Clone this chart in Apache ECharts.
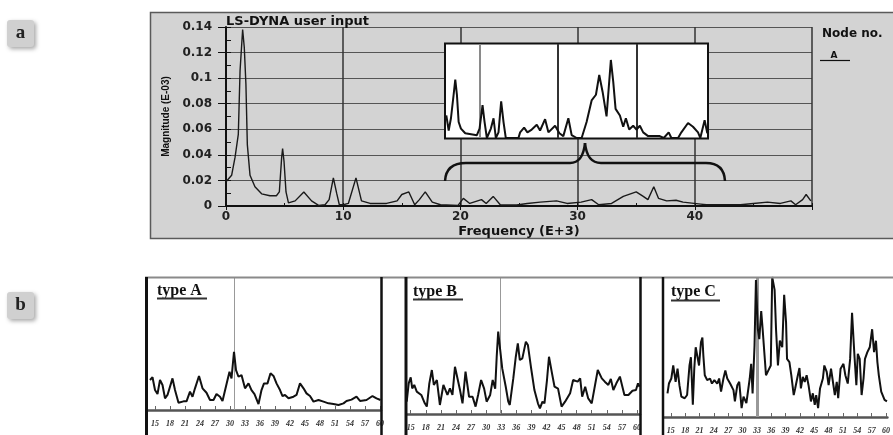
<!DOCTYPE html>
<html><head><meta charset="utf-8">
<script src="https://cdn.jsdelivr.net/npm/echarts@6/dist/echarts.min.js"></script>
<style>html,body{margin:0;padding:0;background:#fff}#c{width:893px;height:435px}</style>
</head><body><div id="c"></div>
<script>
// ---- panel a : main spectrum (Frequency E+3 vs Magnitude E-03) ----
const mainFreq=[0,0.48,0.77,1.05,1.2,1.42,1.56,1.7,1.82,2.05,2.47,3.04,3.75,4.3,4.55,4.75,4.83,4.95,5.12,5.33,5.9,6.64,7.3,7.9,8.45,8.8,9.16,9.44,9.67,10.0,10.44,11.09,11.56,12.3,13.7,14.6,15.0,15.6,16.1,16.5,17.0,17.6,18.3,19.8,20.25,20.8,21.8,22.2,22.8,23.4,24.8,25.7,26.8,28.2,29.1,30.3,31.2,31.8,32.9,33.9,35.0,35.6,36.0,36.5,36.9,37.6,38.4,39.0,40.5,41.0,43.9,45,46.2,47.3,48.2,48.6,49.2,49.5,49.9];
const mainMag=[0.019,0.024,0.038,0.056,0.106,0.138,0.124,0.095,0.048,0.024,0.015,0.0095,0.008,0.008,0.011,0.038,0.045,0.035,0.011,0.0025,0.004,0.011,0.004,0.0005,0.001,0.005,0.022,0.01,0.001,0.001,0.002,0.022,0.004,0.002,0.002,0.004,0.009,0.011,0.001,0.005,0.011,0.003,0.001,0.0005,0.006,0.002,0.005,0.002,0.0075,0.001,0.0008,0.002,0.003,0.004,0.002,0.003,0.005,0.001,0.002,0.0075,0.011,0.0075,0.005,0.015,0.006,0.004,0.0045,0.003,0.0015,0.001,0.001,0.002,0.003,0.002,0.004,0.001,0.005,0.009,0.004];
const yTicks=[0,0.02,0.04,0.06,0.08,0.1,0.12,0.14];
const xTicks=[0,10,20,30,40];
// ---- inset (magnified 16-49 E+3, relative magnitude) ----
const insetFreq=[15.80,16.10,16.39,16.73,16.94,17.15,17.37,17.66,18.21,19.69,20.03,20.41,20.67,20.96,21.47,21.81,22.10,22.44,22.78,23.08,23.37,24.14,24.98,25.19,25.70,26.12,26.67,27.31,27.73,28.37,28.79,29.64,30.19,30.69,31.33,31.75,32.39,33.02,33.65,34.29,34.84,35.26,35.69,36.19,36.74,37.04,37.34,37.89,38.31,38.65,39.07,39.58,40.00,40.43,40.85,41.48,42.96,43.47,44.10,44.44,45.29,45.71,46.56,47.19,47.83,48.12,48.67,49.01];
const insetMag=[0.24,0.08,0.21,0.46,0.62,0.46,0.17,0.10,0.05,0.03,0.10,0.35,0.17,0,0.10,0.21,0,0.06,0.39,0.17,0,0,0,0.06,0.11,0.06,0.09,0.14,0.08,0.20,0.06,0.13,0.05,0.02,0.21,0.03,0,0,0.17,0.40,0.46,0.67,0.49,0.23,0.83,0.60,0.31,0.24,0.12,0.21,0.09,0.13,0.09,0.13,0.06,0.02,0.02,0,0.06,0,0,0.06,0.16,0.12,0.06,0,0.19,0.05];
// ---- panel b : types A, B, C ----
const bottomTicks=[15,18,21,24,27,30,33,36,39,42,45,48,51,54,57,60];
const typeAFreq=[14,14.5,15,15.5,16,16.5,17,17.5,18.5,19,19.7,20.7,21.3,22,22.5,23,23.8,24.5,25.3,26,26.7,27.3,28,28.5,29.5,29.9,30.3,30.8,31.2,31.7,32.3,33,33.7,34.3,34.9,35.7,36.3,36.8,37.5,38.1,38.7,39.3,40,40.5,41,41.7,42.7,43.3,44,44.7,45.3,46,46.7,47.7,48.7,49.7,50.7,51.7,52.7,53.3,54.3,55.3,56,57.3,58.5,59.3,60.1];
const typeAVal=[22.6,24.6,15,12,22.6,18.8,8.8,11.3,23.8,15,5.5,6.5,6.5,13.8,10,16.3,25.6,16.3,13,7.5,7.5,12,10,6.8,22.6,28.8,23.8,43.8,30,25,26.3,16.3,20,15,12,4.5,15,20,20,27.6,25.6,20,15,10.5,11.3,8.8,10,11.3,20,16.3,12.5,10.5,6.3,7.5,6.3,5,4.5,3.8,5,6.8,7.8,10,6.8,7.5,10.5,8.8,7.5];
const typeBFreq=[14.2,14.6,15.0,15.3,15.7,16.2,17.1,17.8,18.2,18.7,19.2,19.6,20.2,20.8,21.5,21.8,22.3,22.8,23.3,23.8,24.1,24.8,25.3,25.9,26.6,27.3,27.9,28.4,29.0,29.6,30.1,30.8,31.3,31.8,32.1,32.4,32.8,33.2,33.9,34.4,34.7,35.4,35.9,36.3,36.7,37.2,37.9,38.3,38.9,39.6,40.3,40.7,41.2,41.6,42.1,42.5,43.1,43.6,44.3,45.0,45.7,46.7,47.3,48.2,48.7,49.1,49.7,50.3,51.0,51.3,52.2,53.0,53.6,54.3,54.8,55.3,55.9,56.6,57.5,58.3,59.1,59.8,60.2,60.5];
const typeBVal=[9,22.4,26.8,18.7,21.2,16.3,13.9,7.8,5.4,22.4,32.1,21.2,24.8,6.6,21.2,22.4,13.9,18.7,13.9,34.5,35.8,17.5,7.8,30.9,12.6,12.6,5.4,13.9,24.8,18.5,9,13.9,24.8,18.5,41.8,60.1,46.7,33.3,19.9,9,6.6,26,41.8,51.6,39.4,40.6,52.8,50.4,34.5,17.5,7.8,4.1,9,7.8,24.8,41.8,29.7,19.9,18.5,5.4,9,15.1,24.8,23.6,26,12.6,19.9,11.4,7.8,9,32.1,26,23.6,21.2,25.6,17.5,22.4,27.3,13.9,13.9,17,17.5,22.4,19.9];
const typeCFreq=[14.3,14.6,15.1,15.5,16.0,16.4,16.8,17.2,17.9,18.4,18.9,19.2,19.6,19.9,20.2,20.6,20.9,21.3,21.6,21.8,22.1,22.6,23.2,23.6,24.1,24.7,25.1,25.5,26.0,26.4,26.8,27.4,28.1,28.4,28.9,29.3,29.8,30.2,30.8,31.5,31.8,32.1,32.5,32.8,33.2,33.5,33.9,34.2,34.6,34.9,35.4,35.9,36.2,36.7,37.0,37.4,37.8,38.3,38.7,39.1,39.3,39.8,40.2,40.7,41.0,41.5,41.9,42.2,42.6,43.0,43.4,43.8,44.3,44.7,45.1,45.4,45.8,46.2,46.8,47.1,47.6,48.0,48.5,48.8,49.3,49.7,50.0,50.5,51.1,51.5,52.0,52.5,52.9,53.4,53.8,54.1,54.5,54.9,55.3,55.6,56.1,56.6,57.1,57.5,57.9,58.2,58.5,59.0,59.7,60.2];
const typeCVal=[16.9,23.9,27.5,36.8,25.1,34.5,22.7,14.6,13.4,15.7,36.8,42.7,8.7,34.5,49.8,48.6,36.8,53.3,56.8,43.9,29.8,26.3,27.5,23.9,26.3,23.9,27.5,18.1,27.5,33.3,27.5,23.9,19.2,11.1,22.7,25.1,6.3,14.6,9.9,27.5,38,16.9,50.9,97.9,62.7,55.6,75.6,62.7,43.9,29.8,33.3,36.8,100,90.8,62.7,36.8,54.5,49.8,87.3,67.4,41.5,39.2,29.8,15.7,20.4,28.7,35,20.4,28.7,25.1,29.8,22.7,11.1,16.9,8.7,15.7,6.3,20.4,27.5,36.8,32.2,22.7,34.5,27.5,15.7,25.1,13.4,34.5,38,29.8,23.9,41.5,74.4,43.9,22.7,45.1,41.5,15.7,27.5,41.5,46.3,49.8,62.7,46.3,54.5,39.2,29.8,18.1,12.2,11.1];
const typeMarks=[30.8,32.75,33.0];
const typeNames=['type A','type B','type C'];

const pair=(xs,ys)=>xs.map((x,i)=>[x,ys[i]]);
const chart=echarts.init(document.getElementById('c'),null,{renderer:'canvas'});
const wide='DejaVu Sans';
const serif='Liberation Serif';

function bottomX(gi,min,max){
  return {gridIndex:gi,type:'value',min:min,max:max,
    axisLine:{show:true,lineStyle:{color:'#555',width:2.5}},
    axisTick:{show:true,inside:true,length:4,customValues:bottomTicks,lineStyle:{color:'#666',width:1}},
    axisLabel:{show:true,customValues:bottomTicks,margin:10,fontSize:8,fontStyle:'italic',fontWeight:'bold',fontFamily:serif,color:'#333'},
    splitLine:{show:false}};
}
function bottomY(gi){return {gridIndex:gi,type:'value',min:0,max:100,show:false,splitLine:{show:false}};}
function bottomSeries(xi,fx,vy,mark,w){
  return {type:'line',xAxisIndex:xi,yAxisIndex:xi,data:pair(fx,vy),showSymbol:false,symbol:'none',
    lineStyle:{color:'#111',width:2},z:4,
    markLine:{silent:true,symbol:['none','none'],label:{show:false},z:3,
      lineStyle:{color:'#999',width:w,type:'solid'},data:[{xAxis:mark}]}};
}
function seg(x1,y1,x2,y2){return {type:'line',z:10,shape:{x1,y1,x2,y2},style:{stroke:'#111',lineWidth:2.5}};}
function curve(x1,y1,cx,cy,x2,y2){return {type:'bezierCurve',z:10,shape:{x1,y1,x2,y2,cpx1:cx,cpy1:cy},style:{stroke:'#111',lineWidth:2.5,fill:null}};}

const option={
  animation:false,
  title:[
    {text:'LS-DYNA user input',left:226,top:15,padding:0,textStyle:{fontFamily:wide,fontWeight:'bold',fontSize:13,color:'#111'}},
    {text:typeNames[0],left:157,top:283,padding:0,textStyle:{fontFamily:serif,fontWeight:'bold',fontSize:16,color:'#111'}},
    {text:typeNames[1],left:413,top:284,padding:0,textStyle:{fontFamily:serif,fontWeight:'bold',fontSize:16,color:'#111'}},
    {text:typeNames[2],left:671,top:284,padding:0,textStyle:{fontFamily:serif,fontWeight:'bold',fontSize:16,color:'#111'}}
  ],
  grid:[
    {left:226,top:27,width:586,height:179},
    {left:446,top:44,width:262,height:94},
    {left:148,top:277,width:233,height:133},
    {left:407,top:277,width:233,height:137},
    {left:664,top:277,width:229,height:142}
  ],
  xAxis:[
    {gridIndex:0,type:'value',min:0,max:50,interval:10,
      axisLine:{lineStyle:{color:'#111',width:2}},
      axisTick:{show:true,length:4,lineStyle:{color:'#111'}},
      axisLabel:{margin:5,fontFamily:wide,fontWeight:'bold',fontSize:12,color:'#222',customValues:xTicks},
      splitLine:{show:true,lineStyle:{color:'#333',width:1.5}},
      name:'Frequency (E+3)',nameLocation:'middle',nameGap:19,
      nameTextStyle:{fontFamily:wide,fontWeight:'bold',fontSize:13,color:'#111'}},
    {gridIndex:0,type:'value',min:0,max:50,interval:5,position:'bottom',offset:0,
      axisLine:{show:false},axisTick:{show:true,inside:true,length:3,lineStyle:{color:'#111'}},
      axisLabel:{show:false},splitLine:{show:false}},
    {gridIndex:1,type:'value',min:15.76,max:49.1,show:false,splitLine:{show:false}},
    bottomX(2,13.6,60.2),
    bottomX(3,14.26,60.6),
    bottomX(4,13.57,60.3)
  ],
  yAxis:[
    {gridIndex:0,type:'value',min:0,max:0.14,interval:0.02,
      axisLine:{show:true,lineStyle:{color:'#111',width:2}},
      axisTick:{show:true,length:8,lineStyle:{color:'#111'}},
      axisLabel:{margin:14,fontFamily:wide,fontWeight:'bold',fontSize:12,color:'#222',customValues:yTicks,
        formatter:v=>String(+(+v).toFixed(2))},
      splitLine:{show:true,lineStyle:{color:'#555',width:1}},
      name:'Magnitude (E-03)',nameLocation:'middle',nameGap:47,
      nameTextStyle:{fontFamily:'Liberation Sans',fontWeight:'bold',fontSize:10,color:'#111'}},
    {gridIndex:0,type:'value',min:0,max:0.14,interval:0.01,position:'left',offset:0,
      axisLine:{show:false},axisTick:{show:true,inside:true,length:5,lineStyle:{color:'#111'}},
      axisLabel:{show:false},splitLine:{show:false}},
    {gridIndex:1,type:'value',min:0,max:1,show:false,splitLine:{show:false}},
    bottomY(2),bottomY(3),bottomY(4)
  ],
  series:[
    {type:'line',name:'A',xAxisIndex:0,yAxisIndex:0,data:pair(mainFreq,mainMag),showSymbol:false,symbol:'none',
      lineStyle:{color:'#1a1a1a',width:1.4},z:3},
    {type:'line',xAxisIndex:2,yAxisIndex:2,data:pair(insetFreq,insetMag),showSymbol:false,symbol:'none',
      lineStyle:{color:'#111',width:2},z:12,
      markLine:{silent:true,symbol:['none','none'],label:{show:false},z:11,
        lineStyle:{color:'#333',width:2,type:'solid'},
        data:[{xAxis:20,lineStyle:{color:'#8a8a8a',width:2}},{xAxis:30},{xAxis:40}]}},
    bottomSeries(3,typeAFreq,typeAVal,typeMarks[0],1),
    bottomSeries(4,typeBFreq,typeBVal,typeMarks[1],1),
    bottomSeries(5,typeCFreq,typeCVal,typeMarks[2],3)
  ],
  graphic:[
    {type:'rect',z:-1,shape:{x:150.5,y:12.5,width:800,height:226},style:{fill:'#d3d3d3',stroke:'#5a5a5a',lineWidth:1.5}},
    {type:'rect',z:10,shape:{x:445,y:43.5,width:263,height:95},style:{fill:'#fff',stroke:'#111',lineWidth:2}},
    curve(445,181,446,163,466,163), seg(466,163,570,163), curve(570,163,583,163,585,143),
    curve(585,143,587,163,601,163), seg(601,163,706,163), curve(706,163,724,163,725,181),
    {type:'text',z:10,style:{text:'Node no.',x:822,y:34,font:'bold 12px "DejaVu Sans"',fill:'#111',align:'left',verticalAlign:'middle',textAlign:'left',textVerticalAlign:'middle'}},
    {type:'text',z:10,style:{text:'A',x:834,y:60,font:'bold 9px "DejaVu Sans"',fill:'#111',align:'center',verticalAlign:'bottom',textAlign:'center',textVerticalAlign:'bottom'}},
    {type:'line',z:10,shape:{x1:820,y1:60.5,x2:850,y2:60.5},style:{stroke:'#111',lineWidth:1.2}},
    {type:'rect',z:10,shape:{x:7,y:20,width:27,height:27,r:3},style:{fill:'#d0d0d0',shadowBlur:4,shadowOffsetX:2,shadowOffsetY:2,shadowColor:'rgba(0,0,0,0.35)'}},
    {type:'text',z:11,style:{text:'a',x:20.5,y:33,font:'bold 19px "Liberation Serif"',fill:'#222',align:'center',verticalAlign:'middle',textAlign:'center',textVerticalAlign:'middle'}},
    {type:'rect',z:10,shape:{x:7,y:292,width:27,height:27,r:3},style:{fill:'#d0d0d0',shadowBlur:4,shadowOffsetX:2,shadowOffsetY:2,shadowColor:'rgba(0,0,0,0.35)'}},
    {type:'text',z:11,style:{text:'b',x:20.5,y:305,font:'bold 19px "Liberation Serif"',fill:'#222',align:'center',verticalAlign:'middle',textAlign:'center',textVerticalAlign:'middle'}},
    {type:'line',z:10,shape:{x1:145,y1:277.5,x2:893,y2:277.5},style:{stroke:'#8a8a8a',lineWidth:2}},
    {type:'line',z:10,shape:{x1:146.5,y1:277,x2:146.5,y2:435},style:{stroke:'#111',lineWidth:3}},
    {type:'line',z:10,shape:{x1:381.5,y1:277,x2:381.5,y2:435},style:{stroke:'#111',lineWidth:2.5}},
    {type:'line',z:10,shape:{x1:406,y1:277,x2:406,y2:435},style:{stroke:'#111',lineWidth:3}},
    {type:'line',z:10,shape:{x1:640.5,y1:277,x2:640.5,y2:435},style:{stroke:'#111',lineWidth:2.5}},
    {type:'line',z:10,shape:{x1:663,y1:277,x2:663,y2:435},style:{stroke:'#111',lineWidth:2.5}},
    {type:'line',z:10,shape:{x1:157,y1:298.5,x2:207,y2:298.5},style:{stroke:'#333',lineWidth:2}},
    {type:'line',z:10,shape:{x1:413,y1:299.5,x2:463,y2:299.5},style:{stroke:'#333',lineWidth:2}},
    {type:'line',z:10,shape:{x1:671,y1:300.5,x2:720,y2:300.5},style:{stroke:'#333',lineWidth:2}}
  ]
};
chart.setOption(option);
</script></body></html>
